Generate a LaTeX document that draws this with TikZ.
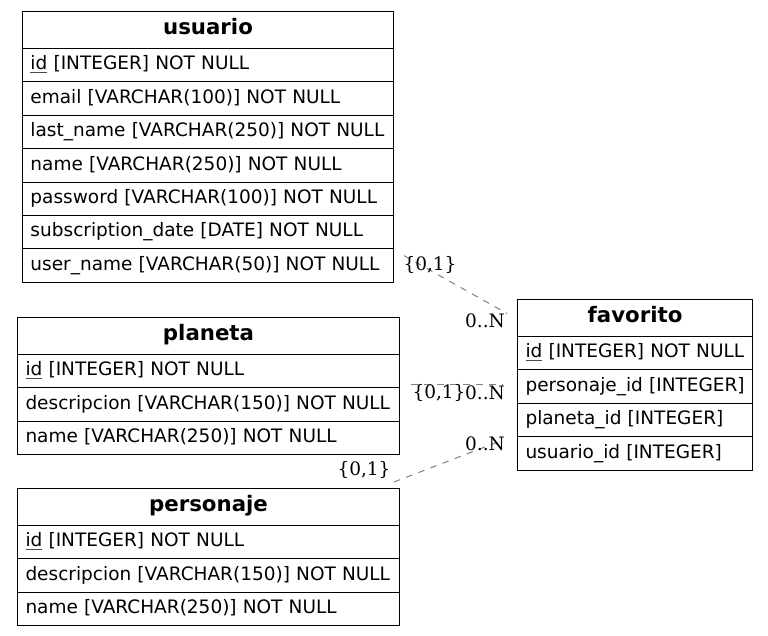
\documentclass[tikz,border=0pt]{standalone}
\usepackage{fontspec}
\setmainfont{DejaVu Sans}
\newfontfamily\lblfont{DejaVu Serif}
% primary key: thin grey underline
\newcommand\pk[1]{\setbox0\hbox{#1}\rlap{\color{black!70}\rule[-3pt]{\wd0}{0.8pt}}\box0\relax}
\begin{document}
\begin{tikzpicture}[x=1pt,y=-1pt,
  cell/.style={draw=black, line width=1pt, anchor=north west, inner xsep=8pt, inner ysep=0pt,
    text height=13.5pt, text depth=4pt},
  title/.style={cell, minimum height=37pt, align=center, font=\fontsize{21.3}{24}\selectfont\bfseries},
  field/.style={cell, minimum height=33.4pt, align=left, font=\fontsize{18.5}{22}\selectfont},
  rel/.style={draw=gray, line width=1pt, dash pattern=on 6.5pt off 6.5pt},
  card/.style={font=\lblfont\fontsize{18.5}{20}\selectfont, inner sep=0pt}
]
\useasboundingbox (0,0) rectangle (768,636);

% usuario
\node[title, text width=355pt] (usuario) at (22,11) {usuario};
\node[field, text width=355pt] (usuario1) at (22,48) {\mbox{\pk{id} [INTEGER] NOT NULL}};
\node[field, text width=355pt] (usuario2) at (22,81.4) {\mbox{email [VARCHAR(100)] NOT NULL}};
\node[field, text width=355pt] (usuario3) at (22,114.8) {\mbox{last\_name [VARCHAR(250)] NOT NULL}};
\node[field, text width=355pt] (usuario4) at (22,148.2) {\mbox{name [VARCHAR(250)] NOT NULL}};
\node[field, text width=355pt] (usuario5) at (22,181.6) {\mbox{password [VARCHAR(100)] NOT NULL}};
\node[field, text width=355pt] (usuario6) at (22,215) {\mbox{subscription\_date [DATE] NOT NULL}};
\node[field, text width=355pt] (usuario7) at (22,248.4) {\mbox{user\_name [VARCHAR(50)] NOT NULL}};

% planeta
\node[title, text width=366pt] (planeta) at (17,317) {planeta};
\node[field, text width=366pt] (planeta1) at (17,354) {\mbox{\pk{id} [INTEGER] NOT NULL}};
\node[field, text width=366pt] (planeta2) at (17,387.4) {\mbox{descripcion [VARCHAR(150)] NOT NULL}};
\node[field, text width=366pt] (planeta3) at (17,420.8) {\mbox{name [VARCHAR(250)] NOT NULL}};

% personaje
\node[title, text width=366pt] (personaje) at (17,488) {personaje};
\node[field, text width=366pt] (personaje1) at (17,525) {\mbox{\pk{id} [INTEGER] NOT NULL}};
\node[field, text width=366pt] (personaje2) at (17,558.4) {\mbox{descripcion [VARCHAR(150)] NOT NULL}};
\node[field, text width=366pt] (personaje3) at (17,591.8) {\mbox{name [VARCHAR(250)] NOT NULL}};

% favorito
\node[title, text width=219pt] (favorito) at (517,299) {favorito};
\node[field, text width=219pt] (favorito1) at (517,336) {\mbox{\pk{id} [INTEGER] NOT NULL}};
\node[field, text width=219pt] (favorito2) at (517,369.4) {\mbox{personaje\_id [INTEGER]}};
\node[field, text width=219pt] (favorito3) at (517,402.8) {\mbox{planeta\_id [INTEGER]}};
\node[field, text width=219pt] (favorito4) at (517,436.2) {\mbox{usuario\_id [INTEGER]}};

% connector end points (canvas shifts: positive y is up)
\coordinate (uEnd) at ([xshift=10pt,yshift=10pt]usuario7.east);
\coordinate (fuEnd) at ([xshift=-10pt,yshift=4.5pt]favorito.west);
\coordinate (pEnd) at ([xshift=11pt,yshift=3.4pt]planeta2.north east);
\coordinate (fpEnd) at ([xshift=-14pt,yshift=-14.6pt]favorito2.north west);
\coordinate (sEnd) at ([xshift=-6pt,yshift=6pt]personaje.north east);
\coordinate (fsEnd) at ([xshift=-14pt,yshift=-3.8pt]favorito4.north west);

% relations
\draw[rel] (uEnd) -- (fuEnd);
\draw[rel] (pEnd) -- (fpEnd);
\draw[rel] (sEnd) -- (fsEnd);

% cardinalities
\node[card] (c1a) at (430,265) {\{0,1\}};
\node[card] (c1b) at (485,321) {0..N};
\node[card] (c2a) at (439,393) {\{0,1\}};
\node[card] (c2b) at (485,393) {0..N};
\node[card] (c3a) at (364,470) {\{0,1\}};
\node[card] (c3b) at (485,444) {0..N};
\end{tikzpicture}
\end{document}
